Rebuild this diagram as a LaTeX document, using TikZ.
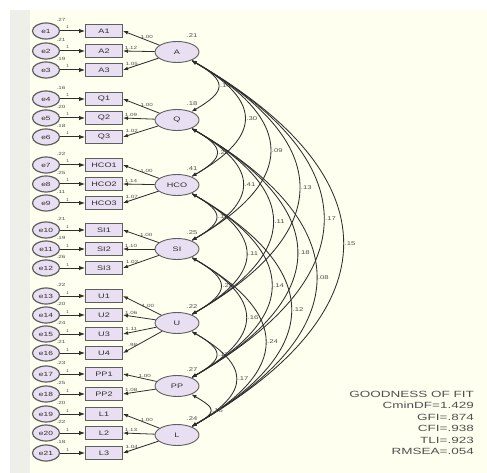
\documentclass[tikz,border=0pt]{standalone}
\usepackage{fontspec}
\setmainfont{Liberation Sans}
\usetikzlibrary{arrows.meta,shapes.geometric}
\definecolor{bgc}{HTML}{FFFFF0}
\definecolor{leftc}{HTML}{EFEFEA}
\definecolor{lav}{HTML}{E8DFF2}
\definecolor{edgec}{HTML}{5E5E5E}
\definecolor{ink}{HTML}{2E2E2E}
\definecolor{txt}{HTML}{505050}
\newcommand\sx[1]{\scalebox{1.4}[1]{#1}}
\newcommand\sxg[1]{\scalebox{1.5}[1]{#1}}
\tikzset{
 errc/.style={ellipse, draw=edgec, line width=1.2pt, fill=lav, minimum width=27pt, minimum height=16pt, inner sep=0pt, font=\fontsize{6}{6}\selectfont, text=ink},
 obs/.style={rectangle, draw=edgec, line width=1pt, fill=lav, minimum width=37pt, minimum height=13pt, inner sep=0pt, font=\fontsize{6.5}{6.5}\selectfont, text=ink},
 lat/.style={ellipse, draw=edgec, line width=0.9pt, fill=lav, minimum width=44pt, minimum height=21pt, inner sep=0pt, font=\fontsize{6.5}{6.5}\selectfont, text=ink},
 tinylab/.style={font=\fontsize{4.5}{4.5}\selectfont, text=txt, inner sep=0pt},
 smalllab/.style={font=\fontsize{5.5}{5.5}\selectfont, text=txt, inner sep=0pt},
 goftext/.style={font=\fontsize{9}{9}\selectfont, text=txt, anchor=east, inner sep=0pt},
 arr/.style={-{Latex[length=5pt,width=3.8pt]}, draw=ink, line width=0.8pt},
 errarr/.style={-{Latex[length=6pt,width=4.5pt]}, draw=ink, line width=1pt},
 cov/.style={{Latex[length=5pt,width=3.8pt]}-{Latex[length=5pt,width=3.8pt]}, draw=ink, line width=0.85pt, bend left=60},
}
\begin{document}
\begin{tikzpicture}[x=1pt,y=-1pt]
\path[use as bounding box] (0,0) rectangle (487,473);
\fill[white] (0,0) rectangle (487,473);
\fill[leftc] (10,10) rectangle (30,473);
\fill[bgc] (30,10) rectangle (487,473);

% latent factors
\node[lat] (A) at (177,52) {\sx{A}};
\node[lat] (Q) at (177,120) {\sx{Q}};
\node[lat] (HCO) at (177,185) {\sx{HCO}};
\node[lat] (SI) at (177,249) {\sx{SI}};
\node[lat] (U) at (177,323) {\sx{U}};
\node[lat] (PP) at (177,386) {\sx{PP}};
\node[lat] (L) at (177,435) {\sx{L}};

\foreach \lv/\v in {A/.21,Q/.18,HCO/.41,SI/.25,U/.22,PP/.27,L/.24}{
  \node[smalllab] at ([xshift=15pt,yshift=16pt]\lv.center) {\sx{\v}};
}

% indicators
\foreach \n/\lab/\y/\lv/\ev/\ld/\p in {
 1/A1/31/A/.27/1.00/0.35, 2/A2/51/A/.21/1.12/0.75, 3/A3/70/A/.19/1.05/0.75,
 4/Q1/99/Q/.16/1.00/0.35, 5/Q2/118/Q/.20/1.09/0.75, 6/Q3/137/Q/.18/1.02/0.75,
 7/HCO1/165/HCO/.22/1.00/0.35, 8/HCO2/184/HCO/.25/1.14/0.75, 9/HCO3/203/HCO/.11/1.07/0.75,
 10/SI1/230/SI/.21/1.00/0.35, 11/SI2/249/SI/.19/1.10/0.75, 12/SI3/268/SI/.26/1.03/0.75,
 13/U1/296/U/.22/1.00/0.35, 14/U2/315/U/.20/1.06/0.75, 15/U3/334/U/.24/1.11/0.75, 16/U4/353/U/.21/.98/0.75,
 17/PP1/374/PP/.23/1.00/0.35, 18/PP2/394/PP/.25/1.08/0.75,
 19/L1/414/L/.20/1.00/0.35, 20/L2/433/L/.22/1.13/0.75, 21/L3/453/L/.18/1.04/0.75}{
  \node[errc] (e\n) at (46,\y) {\sx{e\n}};
  \node[obs] (b\n) at (104,\y) {\sx{\lab}};
  \draw[errarr] (e\n) -- node[tinylab, above=1.5pt, pos=0.3] {1} (b\n);
  \node[tinylab] at (61,\y-11) {\sx{\ev}};
  \draw[arr] (\lv) -- node[tinylab, pos=\p, above=1pt] {\sx{\ld}} (b\n.east);
}

% covariances
\foreach \a/\b/\v/\lo in {
 A/Q/.14/2.05, A/HCO/.30/1.8, A/SI/.09/1.72, A/U/.13/1.67, A/PP/.17/1.64, A/L/.15/1.63,
 Q/HCO/.24/2.05, Q/SI/.41/1.8, Q/U/.11/1.72, Q/PP/.18/1.67, Q/L/.08/1.65,
 HCO/SI/.17/2.05, HCO/U/.11/1.78, HCO/PP/.14/1.71, HCO/L/.12/1.68,
 SI/U/.25/2.0, SI/PP/.16/1.78, SI/L/.24/1.72,
 U/PP/.17/2.1, U/L/.17/1.84,
 PP/L/.16/2.3}{
  \draw[cov, looseness=\lo] (\a) to node[smalllab, midway, right=1.5pt] {\sx{\v}} (\b);
}

% goodness of fit
\node[goftext] (g1) at (474,394) {\sxg{GOODNESS OF FIT}};
\node[goftext] (g2) at (474,405.5) {\sxg{CminDF=1.429}};
\node[goftext] (g3) at (474,417) {\sxg{GFI=.874}};
\node[goftext] (g4) at (474,428.5) {\sxg{CFI=.938}};
\node[goftext] (g5) at (474,440) {\sxg{TLI=.923}};
\node[goftext] (g6) at (474,451.5) {\sxg{RMSEA=.054}};
\end{tikzpicture}
\end{document}
